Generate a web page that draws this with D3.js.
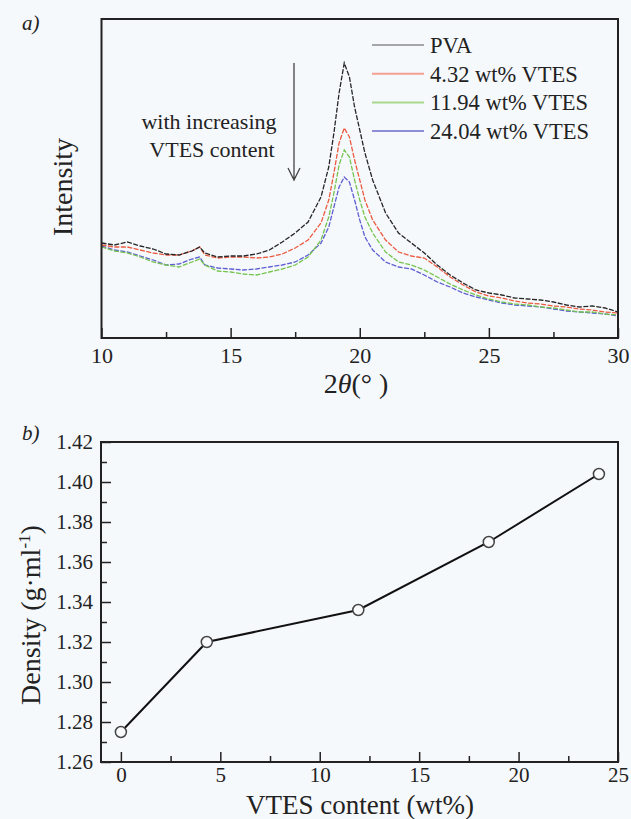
<!DOCTYPE html>
<html>
<head>
<meta charset="utf-8">
<script src="https://cdn.jsdelivr.net/npm/d3@7"></script>
<style>
  body { margin: 0; background: #f6f9fc; }
  svg { display: block; font-family: "Liberation Serif", "Times New Roman", serif; }
</style>
</head>
<body>
<div id="chart"></div>
<script>
// Panel a: XRD patterns (intensity in arbitrary units)
const twoTheta = [10, 10.5, 11, 11.5, 12, 12.5, 13, 13.5, 13.8, 14, 14.5, 15, 15.5, 16, 16.5, 17, 17.5, 18, 18.5, 18.8,
  19, 19.2, 19.4, 19.6, 19.8, 20, 20.2, 20.5, 21, 21.5, 22, 22.5, 23, 23.5, 24, 24.5, 25, 25.5, 26, 26.5, 27, 27.5,
  28, 28.5, 29, 29.5, 30];
const pva = [95, 93, 96, 92, 89, 84, 83, 87, 91, 85, 81, 82, 82, 84, 88, 96, 105, 116, 141, 171,
  205, 245, 275, 261, 231, 208, 185, 158, 125, 105, 95, 85, 73, 63, 55, 48, 45, 43, 40, 39, 38, 36, 33, 31, 32, 30, 26];
const vtes432 = [93, 91, 91, 88, 85, 83, 83, 87, 91, 83, 80, 81, 81, 80, 81, 84, 90, 98, 115, 138,
  165, 195, 210, 201, 178, 158, 138, 118, 98, 86, 82, 80, 71, 61, 53, 46, 42, 40, 37, 35, 34, 32, 31, 29, 28, 26, 25];
const vtes1194 = [91, 87, 85, 81, 76, 73, 71, 76, 79, 73, 67, 66, 64, 63, 66, 69, 73, 81, 98, 121,
  145, 173, 188, 181, 158, 138, 121, 105, 86, 76, 73, 68, 61, 54, 48, 43, 39, 36, 34, 33, 31, 30, 28, 26, 26, 24, 23];
const vtes2404 = [92, 88, 86, 82, 78, 73, 74, 79, 81, 73, 70, 69, 68, 69, 71, 73, 76, 83, 95, 111,
  131, 151, 161, 156, 138, 118, 101, 88, 76, 71, 69, 63, 56, 51, 45, 41, 38, 35, 33, 32, 31, 29, 27, 26, 25, 24, 22];
const seriesNames = ["PVA", "4.32 wt% VTES", "11.94 wt% VTES", "24.04 wt% VTES"];
const seriesColors = ["#262626", "#ec5a40", "#74c44e", "#5e5ed2"];
const legendColors = ["#555555", "#f3a090", "#a6d88e", "#8e8ed6"];
const xrdTicks = [10, 15, 20, 25, 30];
const xrdMinor = [12.5, 17.5, 22.5, 27.5];

// Panel b: density vs VTES content
const vtesContent = [0, 4.32, 11.94, 18.5, 24.04];
const density = [1.275, 1.320, 1.336, 1.370, 1.404];
const contentTicks = [0, 5, 10, 15, 20, 25];
const contentMinor = [2.5, 7.5, 12.5, 17.5, 22.5];
const densityTicks = [1.26, 1.28, 1.30, 1.32, 1.34, 1.36, 1.38, 1.40, 1.42];
const densityMinor = [1.27, 1.29, 1.31, 1.33, 1.35, 1.37, 1.39, 1.41];

const W = 631, H = 819;
const ink = "#222";
const serif = "'Liberation Serif', 'Times New Roman', serif";

const svg = d3.select("#chart").append("svg")
  .attr("width", W)
  .attr("height", H);

svg.append("rect").attr("width", W).attr("height", H).attr("fill", "#f6f9fc");

// helper: inward ticks, major with labels, minor without
function tickAxis(g, axisFn, scale, major, minor, fmt, pad, fontSize) {
  const a = g.append("g")
    .call(axisFn(scale).tickValues(major).tickSizeInner(-10).tickSizeOuter(0)
      .tickPadding(pad).tickFormat(fmt));
  a.attr("font-family", null);
  a.select(".domain").remove();
  a.selectAll("line").attr("stroke", ink).attr("stroke-width", 1.5);
  a.selectAll("text").attr("fill", ink).style("font-size", fontSize + "px")
    .style("font-family", serif);
  const m = g.append("g")
    .call(axisFn(scale).tickValues(minor).tickSizeInner(-6).tickSizeOuter(0).tickFormat(""));
  m.select(".domain").remove();
  m.selectAll("line").attr("stroke", ink).attr("stroke-width", 1.5);
}

// ---------- Panel a ----------
const xa = d3.scaleLinear().domain([10, 30]).range([101.5, 618]);
const ya = d3.scaleLinear().domain([0, 319]).range([338, 19]);

const xrd = [pva, vtes432, vtes1194, vtes2404];
const line = d3.line().x(d => xa(d[0])).y(d => ya(d[1]));

const pa = svg.append("g");
// draw from bottom to top so PVA sits on top
xrd.slice().reverse().forEach((vals, i) => {
  const k = xrd.length - 1 - i;
  pa.append("path")
    .datum(twoTheta.map((t, j) => [t, vals[j]]))
    .attr("d", line)
    .attr("fill", "none")
    .attr("stroke", seriesColors[k])
    .attr("stroke-width", 1.3)
    .attr("stroke-dasharray", "5,1.5");
});

const axA = svg.append("g").attr("transform", "translate(0,338)");
tickAxis(axA, d3.axisBottom, xa, xrdTicks, xrdMinor, d3.format("d"), 9, 22);

pa.append("rect")
  .attr("x", 101.5).attr("y", 19)
  .attr("width", 618 - 101.5).attr("height", 338 - 19)
  .attr("fill", "none").attr("stroke", ink).attr("stroke-width", 2);

// legend
const leg = svg.append("g");
seriesNames.forEach((name, i) => {
  const yb = 53 + i * 28.7;
  leg.append("line")
    .attr("x1", 372).attr("x2", 424)
    .attr("y1", yb - 8).attr("y2", yb - 8)
    .attr("stroke", legendColors[i]).attr("stroke-width", i === 0 ? 1.2 : 2);
  leg.append("text")
    .attr("x", 430).attr("y", yb)
    .attr("fill", ink)
    .style("font-size", "22.5px")
    .text(name);
});

// annotation and arrow
const note = svg.append("g").attr("fill", ink).style("font-size", "22px").attr("text-anchor", "middle");
note.append("text").attr("x", 209).attr("y", 129).text("with increasing");
note.append("text").attr("x", 212).attr("y", 157).text("VTES content");
svg.append("path")
  .attr("d", "M294,63 V180 M288,168 L294,180 L300,168")
  .attr("fill", "none").attr("stroke", "#444").attr("stroke-width", 1.3);

// axis titles
svg.append("text")
  .attr("transform", "translate(72,187) rotate(-90)")
  .attr("text-anchor", "middle")
  .attr("fill", ink)
  .style("font-size", "28px")
  .text("Intensity");

const xt = svg.append("text")
  .attr("x", 356).attr("y", 393)
  .attr("text-anchor", "middle")
  .attr("fill", ink)
  .style("font-size", "28px");
xt.append("tspan").text("2");
xt.append("tspan").style("font-style", "italic").text("θ");
xt.append("tspan").text("(° )");

svg.append("text")
  .attr("x", 22).attr("y", 30)
  .attr("fill", ink)
  .style("font-size", "21px").style("font-style", "italic")
  .text("a)");

// ---------- Panel b ----------
const xb = d3.scaleLinear().domain([-1, 25]).range([101, 618]);
const yb = d3.scaleLinear().domain([1.26, 1.42]).range([762, 442]);

const axBx = svg.append("g").attr("transform", "translate(0,762)");
tickAxis(axBx, d3.axisBottom, xb, contentTicks, contentMinor, d3.format("d"), 5, 21);
const axBy = svg.append("g").attr("transform", "translate(101,0)");
tickAxis(axBy, d3.axisLeft, yb, densityTicks, densityMinor, d3.format(".2f"), 8, 21);

svg.append("rect")
  .attr("x", 101).attr("y", 442)
  .attr("width", 618 - 101).attr("height", 762 - 442)
  .attr("fill", "none").attr("stroke", ink).attr("stroke-width", 2);

const pts = vtesContent.map((v, i) => [v, density[i]]);
svg.append("path")
  .datum(pts)
  .attr("d", d3.line().x(d => xb(d[0])).y(d => yb(d[1])))
  .attr("fill", "none")
  .attr("stroke", "#111")
  .attr("stroke-width", 2);

svg.append("g").selectAll("circle")
  .data(pts)
  .join("circle")
  .attr("cx", d => xb(d[0]))
  .attr("cy", d => yb(d[1]))
  .attr("r", 5.5)
  .attr("fill", "#f8fafc")
  .attr("stroke", "#444")
  .attr("stroke-width", 1.5);

const yt = svg.append("text")
  .attr("transform", "translate(40,615) rotate(-90)")
  .attr("text-anchor", "middle")
  .attr("fill", ink)
  .style("font-size", "28px");
yt.append("tspan").text("Density (g·ml");
yt.append("tspan").attr("dy", -10).style("font-size", "17px").text("-1");
yt.append("tspan").attr("dy", 10).text(")");

svg.append("text")
  .attr("x", 360).attr("y", 814)
  .attr("text-anchor", "middle")
  .attr("fill", ink)
  .style("font-size", "27px")
  .text("VTES content (wt%)");

svg.append("text")
  .attr("x", 22).attr("y", 440)
  .attr("fill", ink)
  .style("font-size", "21px").style("font-style", "italic")
  .text("b)");
</script>
</body>
</html>
